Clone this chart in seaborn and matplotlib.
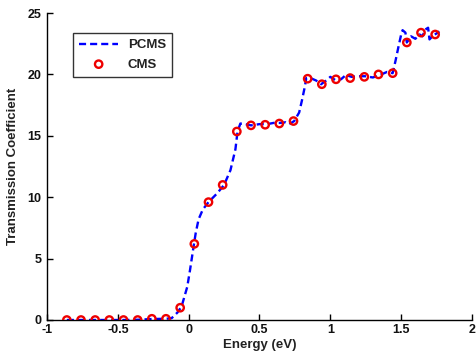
import matplotlib
matplotlib.use("Agg")
import matplotlib.pyplot as plt
import seaborn as sns
import pandas as pd

# PCMS (dashed line) data
pcms_x = [-0.86, -0.76, -0.66, -0.56, -0.46, -0.36, -0.26, -0.16, -0.12, -0.08,
          -0.05, -0.01, 0.01, 0.035, 0.05, 0.07, 0.1, 0.14, 0.2, 0.25,
          0.295, 0.33, 0.345, 0.365, 0.40, 0.44, 0.50, 0.555, 0.60, 0.645,
          0.685, 0.71, 0.745, 0.78, 0.80, 0.82, 0.83, 0.86, 0.90, 0.935,
          0.97, 1.00, 1.04, 1.075, 1.11, 1.15, 1.19, 1.245, 1.30, 1.35,
          1.40, 1.44, 1.46, 1.48, 1.50, 1.51, 1.53, 1.54, 1.57, 1.60,
          1.63, 1.65, 1.67, 1.69, 1.70, 1.72, 1.77]
pcms_y = [0, 0, 0, 0, 0, 0.02, 0.08, 0.1, 0.15, 0.6,
          1.1, 2.7, 4.1, 6.0, 7.1, 8.2, 9.0, 9.6, 10.3, 11.0,
          12.2, 13.9, 15.35, 16.0, 15.95, 15.85, 15.95, 15.95, 16.05, 16.05,
          16.1, 15.95, 16.2, 16.9, 17.9, 19.0, 19.7, 19.7, 19.5, 19.2,
          19.5, 19.8, 19.5, 19.6, 19.95, 19.8, 19.85, 19.85, 19.75, 19.95,
          20.2, 20.1, 21.1, 22.2, 23.25, 23.6, 23.4, 22.6, 23.1, 22.9,
          23.25, 23.1, 23.65, 23.8, 22.85, 23.1, 23.5]

# CMS (circles) data
cms_x = [-0.86, -0.76, -0.66, -0.56, -0.46, -0.36, -0.26, -0.16, -0.06, 0.04,
         0.14, 0.24, 0.34, 0.44, 0.54, 0.64, 0.74, 0.84, 0.94, 1.04,
         1.14, 1.24, 1.34, 1.44, 1.54, 1.64, 1.74]
cms_y = [0, 0, 0, 0, 0, 0, 0.1, 0.1, 1.0, 6.2,
         9.6, 11.0, 15.35, 15.85, 15.9, 16.0, 16.2, 19.65, 19.2, 19.6,
         19.7, 19.8, 20.0, 20.1, 22.6, 23.4, 23.25]

xticks = [-1, -0.5, 0, 0.5, 1, 1.5, 2]
xticklabels = ["-1", "-0.5", "0", "0.5", "1", "1.5", "2"]
yticks = [0, 5, 10, 15, 20, 25]

sns.set_theme(style="ticks")
plt.rcParams['font.family'] = ['Liberation Sans', 'DejaVu Sans']
plt.rcParams['font.weight'] = 'bold'

fig = plt.figure(figsize=(4.77, 3.6), dpi=100)
ax = fig.add_axes([47/477, 1 - 320/360, 425/477, 307/360])

df_l = pd.DataFrame({"x": pcms_x, "y": pcms_y})
df_c = pd.DataFrame({"x": cms_x, "y": cms_y})

sns.lineplot(data=df_l, x="x", y="y", ax=ax, color="#0000ff", linewidth=1.7,
             linestyle=(0, (3, 1.7)), estimator=None, sort=False, label="PCMS")
sns.scatterplot(data=df_c, x="x", y="y", ax=ax, marker="o", s=28,
                facecolors="none", edgecolors="#ee0000", linewidths=1.7,
                label="CMS", zorder=3)

ax.set_xlim(-1, 2)
ax.set_ylim(0, 25)
ax.set_xticks(xticks)
ax.set_xticklabels(xticklabels)
ax.set_yticks(yticks)
ax.tick_params(direction="in", length=4, width=1, labelsize=9, pad=3,
               colors="black")
ax.tick_params(axis="y", pad=4)
for lab in ax.get_xticklabels() + ax.get_yticklabels():
    lab.set_fontweight("bold")
    lab.set_color("#111111")
for s in ["top", "right"]:
    ax.spines[s].set_visible(False)
for s in ["left", "bottom"]:
    ax.spines[s].set_linewidth(1.0)
    ax.spines[s].set_color("black")

ax.set_xlabel("Energy (eV)", fontsize=9.5, fontweight="bold", labelpad=2, color="#222222")
ax.set_ylabel("Transmission Coefficient", fontsize=9.5, fontweight="bold", labelpad=6, color="#222222")

leg = ax.legend(loc="upper left", bbox_to_anchor=(0.061, 0.935), fontsize=9.5,
                frameon=True, fancybox=False, edgecolor="black",
                handlelength=3.0, borderpad=0.45, labelspacing=0.55,
                handletextpad=0.7, borderaxespad=0)
leg.get_frame().set_linewidth(1.0)
for t in leg.get_texts():
    t.set_fontweight("bold")
    t.set_color("#222222")

fig.savefig("out.png", dpi=100)
